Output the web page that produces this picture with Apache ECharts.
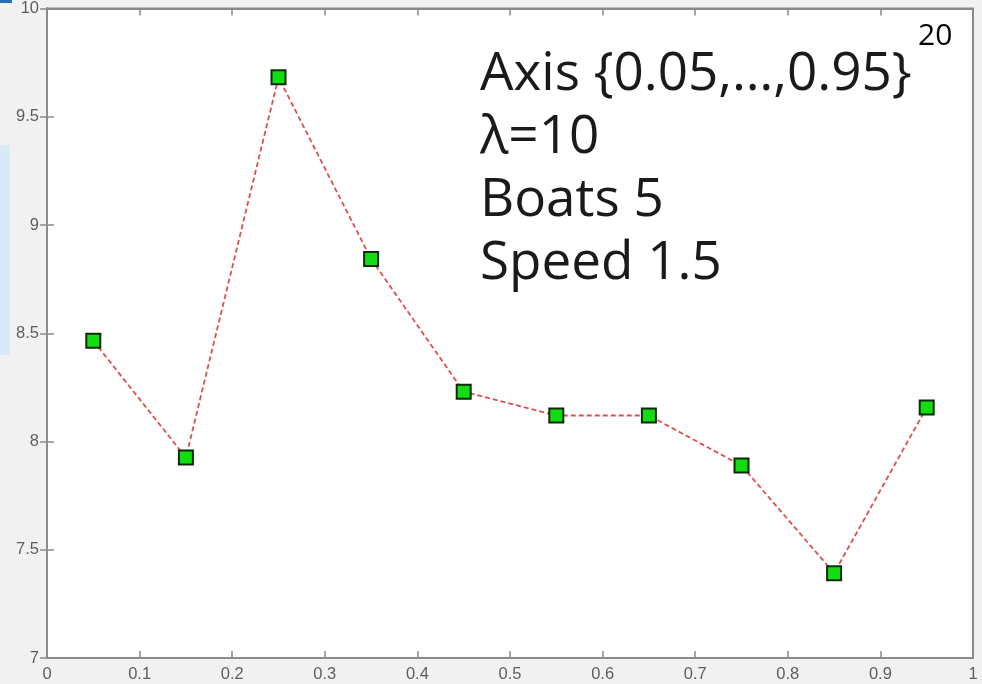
<!DOCTYPE html>
<html>
<head>
<meta charset="utf-8">
<script src="https://cdn.jsdelivr.net/npm/echarts@6/dist/echarts.min.js"></script>
<style>
html,body{margin:0;padding:0;background:#f1f1f1;}
#chart{width:982px;height:684px;}
</style>
</head>
<body>
<div id="chart"></div>
<script>
const xValues = [0.05, 0.15, 0.25, 0.35, 0.45, 0.55, 0.65, 0.75, 0.85, 0.95];
const yValues = [8.465, 7.926, 9.682, 8.843, 8.23, 8.12, 8.12, 7.889, 7.392, 8.157];
const annotationLines = ['Axis {0.05,…,0.95}', 'λ=10', 'Boats 5', 'Speed 1.5'];
const pageNumber = '20';

const chart = echarts.init(document.getElementById('chart'));
const axisCol = '#8a8a8a';
const labelStyle = {color: '#5e5e5e', fontSize: 16.5, fontFamily: 'Liberation Sans, Arial, sans-serif'};

chart.setOption({
  animation: false,
  backgroundColor: '#f1f1f1',
  grid: {left: 47, top: 7, right: 9, bottom: 26, show: true, backgroundColor: '#fff', borderColor: axisCol, borderWidth: 2},
  xAxis: [
    {type: 'value', min: 0, max: 1, interval: 0.1, position: 'bottom',
     axisLine: {show: true, lineStyle: {color: axisCol, width: 2}},
     axisTick: {show: true, inside: true, length: 7, lineStyle: {color: axisCol, width: 1.5}},
     axisLabel: Object.assign({margin: 8, formatter: v => String(Math.round(v*10)/10)}, labelStyle),
     splitLine: {show: false}},
    {type: 'value', min: 0, max: 1, interval: 0.1, position: 'top',
     axisLine: {show: true, lineStyle: {color: axisCol, width: 2}},
     axisTick: {show: true, inside: true, length: 7, lineStyle: {color: axisCol, width: 1.5}},
     axisLabel: {show: false}, splitLine: {show: false}}
  ],
  yAxis: [
    {type: 'value', min: 7, max: 10, interval: 0.5, position: 'left',
     axisLine: {show: true, lineStyle: {color: axisCol, width: 2}},
     axisTick: {show: true, inside: true, length: 7, lineStyle: {color: axisCol, width: 1.5}},
     axisLabel: Object.assign({margin: 8}, labelStyle),
     splitLine: {show: false}},
    {type: 'value', min: 7, max: 10, interval: 0.5, position: 'right',
     axisLine: {show: true, lineStyle: {color: axisCol, width: 2}},
     axisTick: {show: true, inside: true, length: 7, lineStyle: {color: axisCol, width: 1.5}},
     axisLabel: {show: false}, splitLine: {show: false}}
  ],
  series: [{
    type: 'line',
    data: xValues.map((x, i) => [x, yValues[i]]),
    symbol: 'rect',
    symbolSize: 14,
    itemStyle: {color: '#11dd11', borderColor: '#0b2a0b', borderWidth: 2},
    lineStyle: {color: '#dd4f4f', width: 1.8, type: [5, 3]},
    z: 3
  }],
  graphic: [
    {type: 'rect', left: 0, top: 145, shape: {width: 10, height: 210}, style: {fill: '#d8ebf4'}, z: -1},
    {type: 'rect', left: 0, top: 0, shape: {width: 12, height: 3}, style: {fill: '#2a6fb0'}},
    {type: 'text', left: 480, top: 43, z: 10,
     style: {text: annotationLines.join('\n'), fill: '#1a1a1a', font: '53px "Open Sans", sans-serif', lineHeight: 63}},
    {type: 'text', left: 918, top: 21, z: 10,
     style: {text: pageNumber, fill: '#000', font: '30px "Open Sans", sans-serif'}}
  ]
});
</script>
</body>
</html>
